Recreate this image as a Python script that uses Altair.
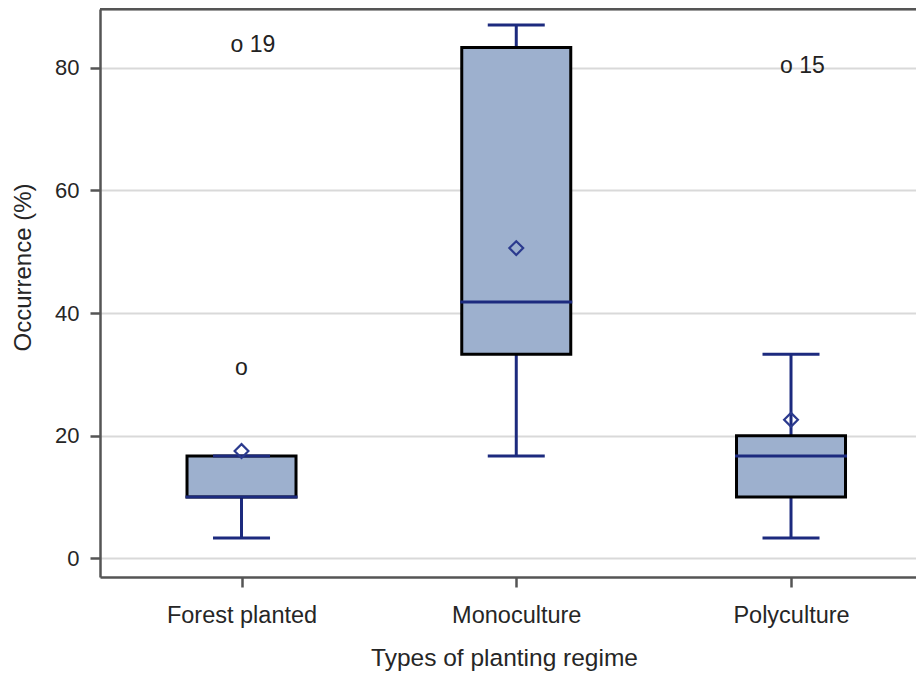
import altair as alt
import pandas as pd

# ---- data ----
categories = ["Forest planted", "Monoculture", "Polyculture"]
whisker_low = [3.3, 16.7, 3.3]
q1 = [10.0, 33.3, 10.0]
median = [10.0, 41.8, 16.7]
q3 = [16.7, 83.3, 20.0]
whisker_high = [16.7, 87.0, 33.3]
means = [17.5, 50.6, 22.6]

outlier_cats = ["Forest planted", "Forest planted", "Polyculture"]
outlier_vals = [83.7, 31.0, 80.3]
outlier_text = ["o 19", "o", "o 15"]

y_ticks = [0, 20, 40, 60, 80]

box = pd.DataFrame({
    "cat": categories, "lo": whisker_low, "q1": q1, "med": median,
    "q3": q3, "hi": whisker_high, "mean": means,
})
outl = pd.DataFrame({"cat": outlier_cats, "v": outlier_vals, "t": outlier_text})
out_labeled = outl[outl["t"] != "o"]
out_plain = outl[outl["t"] == "o"]

FONT = "Liberation Sans"
NAVY = "#1c2a7e"
AXIS = "#555555"

W, H = 816, 568

xscale = alt.Scale(type="point", domain=categories, padding=0.485, align=0.531)
yscale = alt.Scale(domain=[-3.05, 89.6], nice=False, zero=False)

xax = alt.Axis(
    title="Types of planting regime", labelAngle=0, labelFontSize=23.5,
    labelFont=FONT, labelColor="#262626", labelBaseline="top", labelPadding=16,
    tickSize=10, tickColor=AXIS, tickWidth=2.5, domainColor=AXIS, domainWidth=2.5,
    titleFont=FONT, titleFontSize=24.5, titleFontWeight="normal", titleColor="#262626",
    titleX=404, titleY=88, titleAlign="center", titleBaseline="alphabetic", grid=False,
)
yax = alt.Axis(
    title="Occurrence (%)", values=y_ticks, labelFontSize=22, labelFont=FONT,
    labelColor="#262626", labelPadding=11, tickSize=10, tickColor=AXIS, tickWidth=2.5,
    domainColor=AXIS, domainWidth=2.5, grid=True, gridColor="#d9d9d9", gridWidth=2,
    titleFont=FONT, titleFontSize=24, titleFontWeight="normal", titleColor="#262626",
    titleAngle=270, titleX=-77, titleY=258, titleAlign="center", titleBaseline="middle",
)

base = alt.Chart(box)
x_enc = alt.X("cat:N", scale=xscale, axis=xax, sort=categories)

lower = base.mark_rule(color=NAVY, strokeWidth=3).encode(
    x=x_enc, y=alt.Y("lo:Q", scale=yscale, axis=yax), y2="q1:Q")
upper = base.mark_rule(color=NAVY, strokeWidth=3).encode(
    x=alt.X("cat:N", sort=categories), y=alt.Y("q3:Q"), y2="hi:Q")
bars = base.mark_bar(size=109, fill="#9db0ce", stroke="black", strokeWidth=3).encode(
    x=alt.X("cat:N", sort=categories), y="q1:Q", y2="q3:Q")
med = base.mark_tick(size=112, thickness=3, color=NAVY, opacity=1).encode(
    x=alt.X("cat:N", sort=categories), y="med:Q")
cap_lo = base.mark_tick(size=57, thickness=3, color=NAVY, opacity=1).encode(
    x=alt.X("cat:N", sort=categories), y="lo:Q")
cap_hi = base.mark_tick(size=57, thickness=3, color=NAVY, opacity=1).encode(
    x=alt.X("cat:N", sort=categories), y="hi:Q")
mean_pt = base.mark_point(shape="diamond", size=190, filled=False, stroke="#2b3a8e",
                          strokeWidth=2.2, opacity=1).encode(
    x=alt.X("cat:N", sort=categories), y="mean:Q")

txt_lab = alt.Chart(out_labeled).mark_text(
    align="left", baseline="middle", dx=-11, fontSize=23, font=FONT, color="#222222"
).encode(x=alt.X("cat:N", sort=categories), y="v:Q", text="t:N")
txt_plain = alt.Chart(out_plain).mark_text(
    align="center", baseline="middle", fontSize=23, font=FONT, color="#222222"
).encode(x=alt.X("cat:N", sort=categories), y="v:Q", text="t:N")

top_line = alt.Chart(box).mark_rule(color=AXIS, strokeWidth=2.5).encode(
    x=alt.value(0), x2=alt.value(W), y=alt.value(0))

chart = alt.layer(
    lower, upper, bars, med, cap_lo, cap_hi, mean_pt, txt_lab, txt_plain, top_line
).properties(
    width=W, height=H,
    autosize=alt.AutoSizeParams(type="none"),
    padding={"left": 92, "top": 1, "right": 0, "bottom": 96},
).configure_view(stroke=None).configure(background="white")

chart.save("out.html", embed_options={"renderer": "svg", "actions": False})
